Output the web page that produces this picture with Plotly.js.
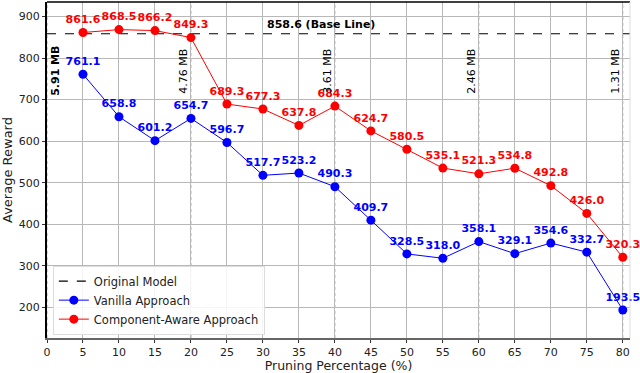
<!DOCTYPE html>
<html>
<head>
<meta charset="utf-8">
<script src="https://cdn.plot.ly/plotly-3.0.1.min.js"></script>
<style>
  html, body { margin: 0; padding: 0; background: #fff; }
  #chart { width: 640px; height: 373px; }
</style>
</head>
<body>
<div id="chart"></div>
<script>
// pruning percentages
var pruning = [5, 10, 15, 20, 25, 30, 35, 40, 45, 50, 55, 60, 65, 70, 75, 80];

// average rewards
var vanilla = [761.1, 658.8, 601.2, 654.7, 596.7, 517.7, 523.2, 490.3, 409.7, 328.5, 318.0, 358.1, 329.1, 354.6, 332.7, 193.5];
var componentAware = [861.6, 868.5, 866.2, 849.3, 689.3, 677.3, 637.8, 684.3, 624.7, 580.5, 535.1, 521.3, 534.8, 492.8, 426.0, 320.3];

var baseline = 858.6;

// model size markers
var sizePct = [0, 20, 40, 60, 80];
var sizeLabels = ['5.91 MB', '4.76 MB', '3.61 MB', '2.46 MB', '1.31 MB'];

var xRange = [0, 81];
var yRange = [126, 935];

function fmt(v) { return v.toFixed(1); }

var base = {
    x: xRange,
    y: [baseline, baseline],
    mode: 'lines',
    name: 'Original Model',
    line: {color: 'black', width: 1.2, dash: 'dash'},
    hoverinfo: 'skip'
};

var van = {
    x: pruning,
    y: vanilla,
    mode: 'lines+markers+text',
    name: 'Vanilla Approach',
    line: {color: 'blue', width: 1},
    marker: {color: 'blue', size: 9},
    text: vanilla.map(fmt),
    textposition: 'top center',
    cliponaxis: false,
    textfont: {color: 'blue', size: 11, family: 'DejaVu Sans', weight: 'bold'}
};

var comp = {
    x: pruning,
    y: componentAware,
    mode: 'lines+markers+text',
    name: 'Component-Aware Approach',
    line: {color: 'red', width: 1},
    marker: {color: 'red', size: 9},
    text: componentAware.map(fmt),
    textposition: 'top center',
    cliponaxis: false,
    textfont: {color: 'red', size: 11, family: 'DejaVu Sans', weight: 'bold'}
};

var shapes = sizePct.map(function (p) {
    return {
        type: 'line', xref: 'x', yref: 'paper',
        x0: p, x1: p, y0: 0, y1: 1,
        line: {color: '#aaaaaa', width: 1, dash: 'dot'},
        layer: 'below'
    };
});
// top border
shapes.push({
    type: 'line', xref: 'paper', yref: 'paper',
    x0: 0, x1: 1, y0: 1, y1: 1,
    line: {color: 'black', width: 1.5}
});
shapes.push({
    type: 'line', xref: 'paper', yref: 'paper',
    x0: 1, x1: 1, y0: 0, y1: 1,
    line: {color: '#dddddd', width: 1}
});

var annotations = sizePct.map(function (p, i) {
    return {
        x: p, y: 768, xref: 'x', yref: 'y',
        text: sizeLabels[i],
        textangle: -90,
        showarrow: false,
        xanchor: i === 0 ? 'left' : 'right',
        yanchor: 'middle',
        xshift: i === 0 ? 0 : 1,
        font: {size: 11, color: 'black', family: 'DejaVu Sans', weight: i === 0 ? 'bold' : 'normal'}
    };
});
annotations.push({
    x: 38, y: baseline, xref: 'x', yref: 'y',
    text: '858.6 (Base Line)',
    showarrow: false,
    yanchor: 'bottom',
    yshift: 1,
    font: {size: 11, color: 'black', family: 'DejaVu Sans', weight: 'bold'}
});

var layout = {
    width: 640,
    height: 373,
    margin: {l: 47, r: 10, t: 2, b: 35},
    paper_bgcolor: 'white',
    plot_bgcolor: 'white',
    font: {family: 'DejaVu Sans', size: 11, color: '#222'},
    showlegend: true,
    legend: {
        x: 0.01, y: 0.01, xanchor: 'left', yanchor: 'bottom',
        bgcolor: 'rgba(255,255,255,0.85)',
        bordercolor: '#dddddd', borderwidth: 1,
        font: {size: 11.5, color: '#222'},
        tracegroupgap: 0
    },
    xaxis: {
        range: xRange,
        tickmode: 'linear', tick0: 0, dtick: 5,
        showgrid: true, gridcolor: '#b8b8b8', gridwidth: 1,
        zeroline: false,
        showline: true, linecolor: '#666', linewidth: 1.5,
        ticks: 'outside', ticklen: 3, tickcolor: '#333',
        title: {text: 'Pruning Percentage (%)', font: {size: 12.5, color: '#222'}, standoff: 1}
    },
    yaxis: {
        range: yRange,
        tickmode: 'array', tickvals: [200, 300, 400, 500, 600, 700, 800, 900],
        showgrid: true, gridcolor: '#b8b8b8', gridwidth: 1,
        zeroline: false,
        showline: true, linecolor: 'black', linewidth: 2,
        ticks: 'outside', ticklen: 3, tickcolor: '#333',
        title: {text: 'Average Reward', font: {size: 13, color: '#222'}, standoff: 6}
    },
    shapes: shapes,
    annotations: annotations
};

Plotly.newPlot('chart', [base, van, comp], layout, {displayModeBar: false, staticPlot: true});
</script>
</body>
</html>
